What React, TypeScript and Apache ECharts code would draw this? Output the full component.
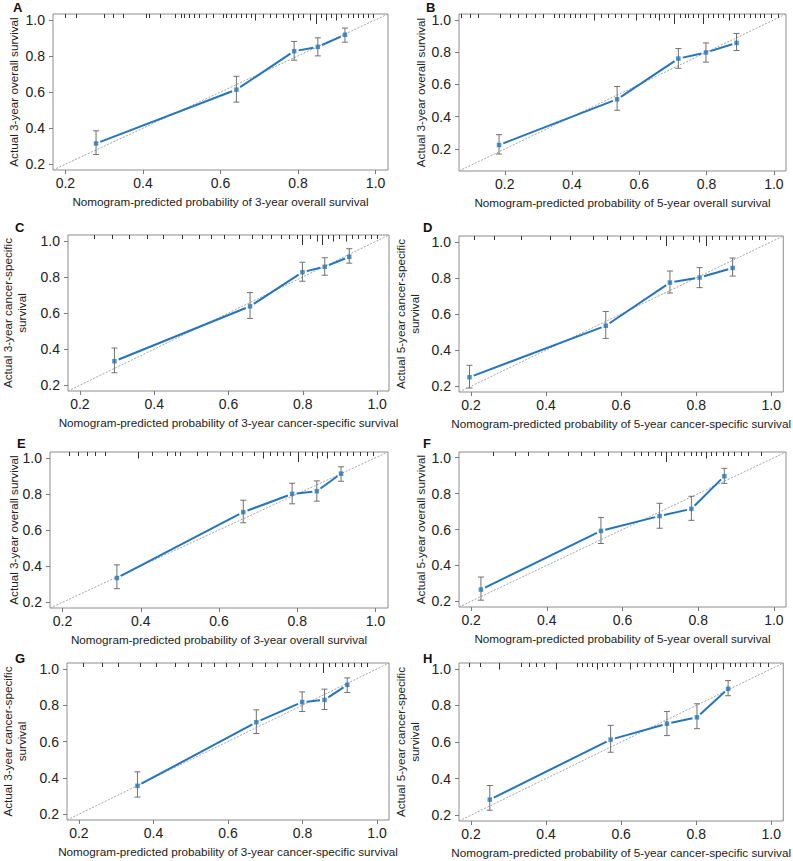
import React, { useEffect, useRef } from "react";
import * as echarts from "echarts";

// ---------- data ----------
const panelLetters = ["A", "B", "C", "D", "E", "F", "G", "H"];

const xTitles = [
  "Nomogram-predicted probability of 3-year overall survival",
  "Nomogram-predicted probability of 5-year overall survival",
  "Nomogram-predicted probability of 3-year cancer-specific survival",
  "Nomogram-predicted probability of 5-year cancer-specific survival",
  "Nomogram-predicted probability of 3-year overall survival",
  "Nomogram-predicted probability of 5-year overall survival",
  "Nomogram-predicted probability of 3-year cancer-specific survival",
  "Nomogram-predicted probability of 5-year cancer-specific survival",
];

const yTitles = [
  "Actual 3-year overall survival",
  "Actual 3-year overall survival",
  "Actual 3-year cancer-specific\nsurvival",
  "Actual 5-year cancer-specific\nsurvival",
  "Actual 3-year overall survival",
  "Actual 5-year overall survival",
  "Actual 3-year cancer-specific\nsurvival",
  "Actual 5-year cancer-specific\nsurvival",
];

const tickValues = [0.2, 0.4, 0.6, 0.8, 1.0];

const axisLimits = [
  [0.168, 1.032],
  [0.064, 1.036],
  [0.168, 1.032],
  [0.168, 1.032],
  [0.168, 1.032],
  [0.168, 1.032],
  [0.168, 1.032],
  [0.168, 1.032],
];

// Panel A
const predA = [0.279, 0.641, 0.79, 0.851, 0.921];
const obsA = [0.315, 0.613, 0.826, 0.85, 0.917];
const loA = [0.254, 0.544, 0.776, 0.8, 0.876];
const hiA = [0.385, 0.687, 0.88, 0.9, 0.954];
// Panel B
const predB = [0.183, 0.534, 0.716, 0.798, 0.889];
const obsB = [0.225, 0.508, 0.76, 0.798, 0.857];
const loB = [0.169, 0.44, 0.7, 0.738, 0.81];
const hiB = [0.289, 0.587, 0.822, 0.857, 0.915];
// Panel C
const predC = [0.293, 0.658, 0.799, 0.859, 0.925];
const obsC = [0.333, 0.637, 0.826, 0.856, 0.911];
const loC = [0.269, 0.57, 0.776, 0.809, 0.876];
const hiC = [0.406, 0.713, 0.881, 0.906, 0.956];
// Panel D
const predD = [0.196, 0.559, 0.73, 0.809, 0.897];
const obsD = [0.25, 0.535, 0.774, 0.802, 0.855];
const loD = [0.19, 0.465, 0.716, 0.746, 0.81];
const hiD = [0.316, 0.614, 0.838, 0.857, 0.91];
// Panel E
const predE = [0.339, 0.662, 0.787, 0.85, 0.912];
const obsE = [0.334, 0.699, 0.8, 0.815, 0.912];
const loE = [0.275, 0.64, 0.745, 0.76, 0.87];
const hiE = [0.407, 0.765, 0.859, 0.872, 0.95];
// Panel F
const predF = [0.226, 0.543, 0.698, 0.782, 0.869];
const obsF = [0.265, 0.592, 0.675, 0.715, 0.897];
const loF = [0.206, 0.522, 0.607, 0.651, 0.857];
const hiF = [0.335, 0.667, 0.746, 0.785, 0.941];
// Panel G
const predG = [0.357, 0.676, 0.799, 0.859, 0.92];
const obsG = [0.356, 0.706, 0.817, 0.829, 0.912];
const loG = [0.294, 0.644, 0.765, 0.776, 0.87];
const hiG = [0.433, 0.774, 0.873, 0.888, 0.95];
// Panel H
const predH = [0.25, 0.572, 0.722, 0.802, 0.885];
const obsH = [0.285, 0.613, 0.7, 0.735, 0.891];
const loH = [0.227, 0.544, 0.635, 0.673, 0.853];
const hiH = [0.362, 0.691, 0.767, 0.809, 0.936];

// rug of predicted values: [value, relative frequency 1..3]
const rugA = [
  [0.199, 1], [0.229, 1], [0.302, 1], [0.324, 1], [0.349, 1], [0.41, 1], [0.418, 1], [0.444, 1],
  [0.483, 1], [0.5, 1], [0.508, 1], [0.521, 1], [0.534, 1], [0.547, 1], [0.564, 1], [0.581, 1],
  [0.607, 1], [0.616, 1], [0.629, 1], [0.642, 1], [0.655, 1], [0.668, 1], [0.68, 1], [0.689, 2],
  [0.71, 1], [0.728, 1], [0.745, 1], [0.762, 1], [0.775, 1], [0.788, 2], [0.801, 1], [0.814, 1],
  [0.831, 2], [0.848, 3], [0.861, 1], [0.874, 2], [0.887, 1], [0.9, 2], [0.913, 1], [0.93, 1],
  [0.942, 1], [0.955, 1], [0.968, 1], [0.981, 1], [0.994, 1],
];
const rugB = [
  [0.072, 1], [0.097, 1], [0.121, 1], [0.186, 1], [0.216, 1], [0.24, 1], [0.265, 1], [0.29, 1],
  [0.315, 1], [0.349, 1], [0.364, 1], [0.379, 1], [0.394, 1], [0.409, 1], [0.424, 1], [0.444, 1],
  [0.468, 2], [0.488, 1], [0.508, 1], [0.528, 1], [0.548, 1], [0.567, 1], [0.592, 2], [0.612, 1],
  [0.632, 1], [0.647, 1], [0.661, 2], [0.676, 1], [0.691, 1], [0.706, 3], [0.721, 1], [0.736, 1],
  [0.745, 1], [0.76, 1], [0.775, 1], [0.79, 3], [0.805, 1], [0.82, 1], [0.835, 1], [0.85, 1],
  [0.869, 2], [0.884, 1], [0.899, 1], [0.914, 1], [0.929, 1], [0.944, 1], [0.959, 1], [0.973, 1],
  [0.993, 1], [1.013, 1],
];
const rugC = [
  [0.239, 1], [0.287, 1], [0.334, 1], [0.381, 1], [0.424, 1], [0.476, 1], [0.521, 1], [0.553, 1],
  [0.588, 1], [0.63, 1], [0.665, 1], [0.691, 1], [0.716, 1], [0.742, 1], [0.764, 1], [0.785, 1],
  [0.798, 3], [0.82, 1], [0.839, 2], [0.852, 3], [0.869, 1], [0.882, 2], [0.899, 1], [0.917, 2],
  [0.934, 1], [0.951, 1], [0.968, 1], [0.985, 1], [1.002, 1],
];
const rugD = [
  [0.21, 1], [0.263, 1], [0.334, 1], [0.413, 1], [0.466, 1], [0.527, 1], [0.563, 1], [0.598, 1],
  [0.633, 1], [0.668, 1], [0.704, 1], [0.721, 3], [0.739, 1], [0.765, 1], [0.792, 1], [0.809, 2],
  [0.827, 3], [0.844, 1], [0.862, 1], [0.88, 1], [0.897, 1], [0.915, 1], [0.932, 1], [0.95, 1],
  [0.968, 1], [0.985, 1],
];
const rugE = [
  [0.217, 1], [0.242, 1], [0.264, 1], [0.285, 1], [0.31, 1], [0.395, 2], [0.43, 1], [0.468, 1],
  [0.489, 1], [0.502, 1], [0.545, 1], [0.57, 1], [0.604, 1], [0.634, 1], [0.66, 1], [0.69, 1],
  [0.715, 2], [0.732, 1], [0.749, 1], [0.766, 1], [0.783, 1], [0.804, 3], [0.822, 1], [0.839, 1],
  [0.851, 2], [0.864, 1], [0.877, 2], [0.894, 1], [0.911, 1], [0.928, 1], [0.945, 1], [0.962, 1],
  [0.979, 1], [0.996, 1],
];
const rugF = [
  [0.259, 1], [0.316, 1], [0.351, 1], [0.404, 1], [0.457, 1], [0.492, 1], [0.527, 1], [0.563, 1],
  [0.598, 1], [0.633, 1], [0.651, 1], [0.668, 1], [0.686, 1], [0.704, 1], [0.717, 3], [0.73, 1],
  [0.747, 1], [0.765, 1], [0.783, 1], [0.796, 1], [0.809, 1], [0.822, 2], [0.836, 1], [0.849, 1],
  [0.866, 1], [0.88, 1], [0.897, 1], [0.915, 1], [0.932, 1], [0.968, 1],
];
const rugG = [
  [0.212, 1], [0.263, 1], [0.306, 1], [0.366, 1], [0.409, 1], [0.46, 1], [0.495, 1], [0.529, 1],
  [0.563, 1], [0.597, 1], [0.632, 1], [0.666, 1], [0.7, 1], [0.734, 1], [0.769, 1], [0.795, 1],
  [0.82, 1], [0.837, 1], [0.855, 3], [0.872, 1], [0.889, 1], [0.906, 1], [0.923, 1], [0.94, 1],
  [0.957, 1], [0.975, 1],
];
const rugH = [
  [0.197, 1], [0.224, 1], [0.277, 2], [0.334, 1], [0.356, 1], [0.374, 1], [0.396, 1], [0.427, 2],
  [0.484, 1], [0.497, 1], [0.511, 1], [0.524, 1], [0.537, 2], [0.55, 1], [0.564, 1], [0.581, 1],
  [0.599, 1], [0.626, 2], [0.643, 1], [0.661, 1], [0.679, 1], [0.696, 1], [0.714, 1], [0.732, 1],
  [0.74, 3], [0.758, 1], [0.776, 1], [0.793, 3], [0.811, 1], [0.829, 1], [0.842, 2], [0.855, 1],
  [0.873, 2], [0.891, 1], [0.904, 1], [0.917, 1], [0.935, 1], [0.952, 1], [0.97, 1], [0.992, 1],
];

const predicted = [predA, predB, predC, predD, predE, predF, predG, predH];
const observed = [obsA, obsB, obsC, obsD, obsE, obsF, obsG, obsH];
const lower = [loA, loB, loC, loD, loE, loF, loG, loH];
const upper = [hiA, hiB, hiC, hiD, hiE, hiF, hiG, hiH];
const rugs = [rugA, rugB, rugC, rugD, rugE, rugF, rugG, rugH];

// ---------- layout / style ----------
const gridBoxes = [
  [53, 14, 335, 156],
  [459, 14, 327, 157],
  [54, 235, 335, 156],
  [459, 236, 327, 156],
  [50, 452, 338, 156],
  [459, 452, 327, 155],
  [53, 663, 336, 157],
  [459, 663, 326, 158],
];
const yNameGaps = [33, 32, 40, 38, 30, 32, 39, 38];
const letterPos = [
  [13, 1], [426, 1], [15, 221], [423, 221], [17, 437], [423, 437], [15, 652], [423, 652],
];

const FONT = "'Liberation Sans', Arial, Helvetica, sans-serif";
const BLUE = "#2675b8";
const ERR = "#73706e";
const TXT = "#222222";
const rugLen = [0, 4, 6.5, 10];

function buildOption() {
  const grid: any[] = [];
  const xAxis: any[] = [];
  const yAxis: any[] = [];
  const series: any[] = [];
  const graphic: any[] = [];

  for (let i = 0; i < 8; i++) {
    const [l, t, w, h] = gridBoxes[i];
    const [mn, mx] = axisLimits[i];
    grid.push({
      left: l, top: t, width: w, height: h,
      show: true, borderColor: "#8c8c8c", borderWidth: 1,
    });
    const common = {
      gridIndex: i, type: "value", min: mn, max: mx,
      nameLocation: "middle",
      nameMoveOverlap: false,
      axisLine: { show: false },
      splitLine: { show: false },
      axisTick: { show: true, length: 4, lineStyle: { color: "#7a7a7a" }, customValues: tickValues },
    };
    xAxis.push({
      ...common,
      name: xTitles[i],
      nameGap: 25,
      nameTextStyle: { fontSize: 11.7, color: TXT, fontFamily: FONT },
      axisLabel: {
        customValues: tickValues, formatter: (v: number) => v.toFixed(1),
        fontSize: 14, color: TXT, margin: 6, fontFamily: FONT,
      },
    });
    yAxis.push({
      ...common,
      name: yTitles[i],
      nameGap: yNameGaps[i],
      nameRotate: 90,
      nameTextStyle: { fontSize: 11.7, color: TXT, fontFamily: FONT, lineHeight: 13.5 },
      axisLabel: {
        customValues: tickValues, formatter: (v: number) => v.toFixed(1),
        fontSize: 14, color: TXT, margin: 8, fontFamily: FONT,
      },
    });

    // diagonal reference line
    series.push({
      type: "line", xAxisIndex: i, yAxisIndex: i, silent: true, z: 1,
      data: [[mn, mn], [mx, mx]], symbol: "none",
      lineStyle: { color: "#a4a4a4", width: 1, type: [2, 1.5] },
    });

    // calibration curve segments (with gaps around points, like R type="b")
    const xs = predicted[i];
    const ys = observed[i];
    const segs: number[][] = [];
    for (let k = 0; k < xs.length - 1; k++) segs.push([xs[k], ys[k], xs[k + 1], ys[k + 1]]);
    series.push({
      type: "custom", xAxisIndex: i, yAxisIndex: i, silent: true, z: 3,
      encode: { x: [0, 2], y: [1, 3] },
      data: segs,
      renderItem: (_params: any, api: any) => {
        const a = api.coord([api.value(0), api.value(1)]);
        const b = api.coord([api.value(2), api.value(3)]);
        const dx = b[0] - a[0];
        const dy = b[1] - a[1];
        const L = Math.hypot(dx, dy);
        const g = 4.5;
        if (L <= 2 * g) return { type: "group", children: [] };
        const ux = dx / L;
        const uy = dy / L;
        return {
          type: "line",
          shape: { x1: a[0] + ux * g, y1: a[1] + uy * g, x2: b[0] - ux * g, y2: b[1] - uy * g },
          style: { stroke: BLUE, lineWidth: 2 },
        };
      },
    });

    // error bars
    const errData = xs.map((x, k) => [x, lower[i][k], upper[i][k]]);
    series.push({
      type: "custom", xAxisIndex: i, yAxisIndex: i, silent: true, z: 4,
      encode: { x: 0, y: [1, 2] },
      data: errData,
      renderItem: (_params: any, api: any) => {
        const lo = api.coord([api.value(0), api.value(1)]);
        const hi = api.coord([api.value(0), api.value(2)]);
        const c = 3;
        const st = { stroke: ERR, lineWidth: 1 };
        return {
          type: "group",
          children: [
            { type: "line", shape: { x1: lo[0], y1: lo[1], x2: hi[0], y2: hi[1] }, style: st },
            { type: "line", shape: { x1: hi[0] - c, y1: hi[1], x2: hi[0] + c, y2: hi[1] }, style: st },
            { type: "line", shape: { x1: lo[0] - c, y1: lo[1], x2: lo[0] + c, y2: lo[1] }, style: st },
          ],
        };
      },
    });

    // points
    series.push({
      type: "scatter", xAxisIndex: i, yAxisIndex: i, silent: true, z: 5,
      symbol: "rect", symbolSize: 4.5,
      itemStyle: { color: BLUE },
      data: xs.map((x, k) => [x, ys[k]]),
    });

    // rug of predicted values hanging from the top border
    series.push({
      type: "custom", xAxisIndex: i, yAxisIndex: i, z: 6, clip: false,
      encode: { x: 0, y: 1 },
      data: rugs[i].map(([v, wgt]) => [v, mx, wgt]),
      renderItem: (_params: any, api: any) => {
        const p = api.coord([api.value(0), api.value(1)]);
        const len = rugLen[api.value(2)] || 4;
        return {
          type: "rect",
          shape: { x: Math.floor(p[0]), y: Math.round(p[1]), width: 1, height: len },
          style: { fill: "#333333" },
        };
      },
    });

    graphic.push({
      type: "text", x: letterPos[i][0], y: letterPos[i][1],
      style: { text: panelLetters[i], font: `bold 13px ${FONT}`, fill: "#111", textVerticalAlign: "top" },
    });
  }

  return {
    animation: false,
    backgroundColor: "#ffffff",
    grid, xAxis, yAxis, series, graphic,
  };
}

export default function App() {
  const ref = useRef<HTMLDivElement>(null);
  useEffect(() => {
    if (!ref.current) return;
    const chart = echarts.init(ref.current, null, { renderer: "svg" });
    chart.setOption(buildOption() as any);
    return () => chart.dispose();
  }, []);
  return (
    <div
      ref={ref}
      style={{ position: "absolute", left: 0, top: 0, width: 793, height: 861, background: "#fff" }}
    />
  );
}
